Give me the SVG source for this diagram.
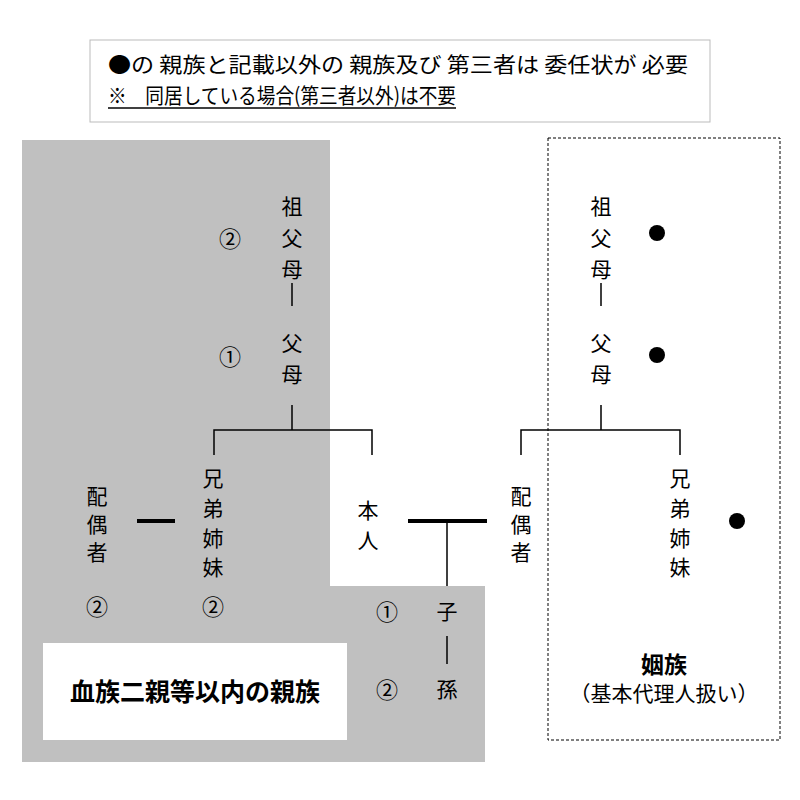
<svg xmlns="http://www.w3.org/2000/svg" width="800" height="800" viewBox="0 0 800 800">
<style>
text{font-family:"Noto Sans CJK JP","Liberation Sans",sans-serif;font-size:21px;fill:#000;text-anchor:middle;dominant-baseline:central}
.n{font-size:22px}
.ln{stroke:#000;stroke-width:1.5;fill:none}
.th{stroke:#000;stroke-width:4;fill:none}
</style>
<rect width="800" height="800" fill="#fff"/>
<path d="M22 140H330V586H485V762H22Z" fill="#c0c0c0"/>
<rect x="43" y="643" width="304" height="97" fill="#fff"/>
<rect x="548" y="138" width="232" height="602" fill="none" stroke="#000" stroke-dasharray="3,2"/>
<g id="note">
<rect x="90" y="40" width="620" height="82" fill="#fff" stroke="#bbb"/>
<text x="108" y="63" style="text-anchor:start;font-size:21px" textLength="580" lengthAdjust="spacingAndGlyphs">●の 親族と記載以外の 親族及び 第三者は 委任状が 必要</text>
<text x="108" y="94" style="text-anchor:start;font-size:21px" textLength="348" lengthAdjust="spacingAndGlyphs">※　同居している場合(第三者以外)は不要</text>
<line x1="108" y1="108" x2="456" y2="108" class="ln"/>
</g>
<g id="connectors">
<line x1="292" y1="283" x2="292" y2="306" class="ln"/>
<path d="M292 405V430M214 455V430H372V455" class="ln"/>
<line x1="137" y1="521" x2="175" y2="521" class="th"/>
<line x1="408" y1="521" x2="487" y2="521" class="th"/>
<line x1="447" y1="521" x2="447" y2="586" class="ln"/>
<line x1="447" y1="636" x2="447" y2="664" class="ln"/>
<line x1="601" y1="283" x2="601" y2="306" class="ln"/>
<path d="M601 405V430M521 455V430H680V455" class="ln"/>
</g>
<g id="blood-grandparents"><text x="292" y="205">祖</text><text x="292" y="237">父</text><text x="292" y="268">母</text><text class="n" x="230" y="237">②</text></g>
<g id="blood-parents"><text x="292" y="342">父</text><text x="292" y="373">母</text><text class="n" x="230" y="355">①</text></g>
<g id="blood-siblings"><text x="213" y="477">兄</text><text x="213" y="507">弟</text><text x="213" y="537">姉</text><text x="213" y="566">妹</text><text class="n" x="213" y="605">②</text></g>
<g id="sibling-spouse"><text x="97" y="495">配</text><text x="97" y="523">偶</text><text x="97" y="551">者</text><text class="n" x="97" y="605">②</text></g>
<g id="self"><text x="368" y="509">本</text><text x="368" y="539">人</text></g>
<g id="child"><text x="447" y="610">子</text><text class="n" x="387" y="610">①</text></g>
<g id="grandchild"><text x="447" y="688">孫</text><text class="n" x="387" y="688">②</text></g>
<g id="blood-label"><text x="195" y="690" style="font-weight:bold;font-size:25px">血族二親等以内の親族</text></g>
<g id="inlaw-grandparents"><text x="601" y="205">祖</text><text x="601" y="237">父</text><text x="601" y="268">母</text><circle cx="657" cy="233" r="8"/></g>
<g id="inlaw-parents"><text x="601" y="342">父</text><text x="601" y="373">母</text><circle cx="657" cy="355" r="8"/></g>
<g id="spouse"><text x="521" y="495">配</text><text x="521" y="523">偶</text><text x="521" y="551">者</text></g>
<g id="inlaw-siblings"><text x="680" y="477">兄</text><text x="680" y="507">弟</text><text x="680" y="537">姉</text><text x="680" y="566">妹</text><circle cx="737" cy="521" r="8"/></g>
<g id="inlaw-label"><text x="664" y="663" style="font-weight:bold;font-size:23px">姻族</text><text x="664" y="692">（基本代理人扱い）</text></g>
</svg>
